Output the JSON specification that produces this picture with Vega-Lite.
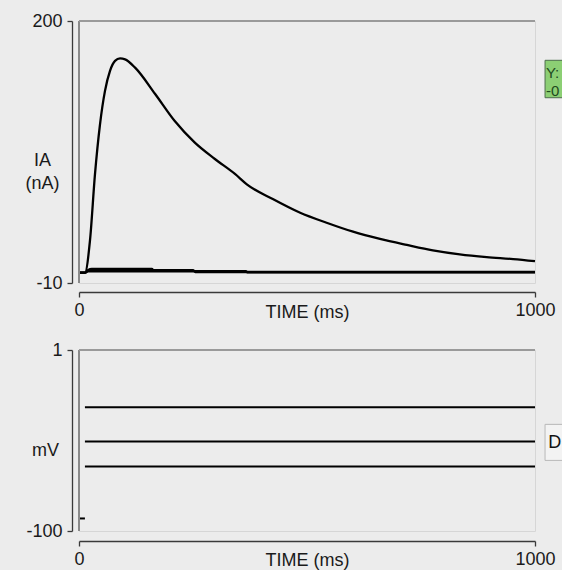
{
  "$schema": "https://vega.github.io/schema/vega-lite/v6.json",
  "background": "#ececec",
  "padding": {"left": 24, "top": 11, "right": 0, "bottom": 0},
  "bounds": "flush",
  "spacing": 67,
  "config": {
    "view": {"stroke": "#d6d6d6", "strokeWidth": 1},
    "font": "Liberation Sans",
    "axis": {
      "domain": true,
      "ticks": true,
      "domainColor": "#3a3a3a",
      "tickColor": "#3a3a3a",
      "grid": false,
      "labelFontSize": 18,
      "titleFontSize": 18,
      "labelColor": "#1a1a1a",
      "titleColor": "#1a1a1a",
      "titleFontWeight": "normal",
      "tickSize": 5,
      "domainWidth": 1.3,
      "tickWidth": 1.3
    }
  },
  "datasets": {
    "ia": [
      {"trace": "a", "t": 0, "v": -1.7}, {"trace": "a", "t": 13, "v": -1.7}, {"trace": "a", "t": 24, "v": 23.7},
      {"trace": "a", "t": 35, "v": 77}, {"trace": "a", "t": 46, "v": 117}, {"trace": "a", "t": 57, "v": 144},
      {"trace": "a", "t": 68, "v": 160}, {"trace": "a", "t": 79, "v": 168}, {"trace": "a", "t": 90, "v": 170},
      {"trace": "a", "t": 101, "v": 169.3}, {"trace": "a", "t": 123, "v": 162.6}, {"trace": "a", "t": 167, "v": 141.5},
      {"trace": "a", "t": 210, "v": 119.8}, {"trace": "a", "t": 254, "v": 102.5}, {"trace": "a", "t": 298, "v": 89.4},
      {"trace": "a", "t": 342, "v": 77.4}, {"trace": "a", "t": 368, "v": 69.1}, {"trace": "a", "t": 425, "v": 57.3},
      {"trace": "a", "t": 485, "v": 46.3}, {"trace": "a", "t": 543, "v": 38.3}, {"trace": "a", "t": 601, "v": 31.1},
      {"trace": "a", "t": 660, "v": 25.3}, {"trace": "a", "t": 719, "v": 20.5}, {"trace": "a", "t": 776, "v": 16.2},
      {"trace": "a", "t": 835, "v": 13}, {"trace": "a", "t": 894, "v": 10.8}, {"trace": "a", "t": 952, "v": 9.2},
      {"trace": "a", "t": 1000, "v": 7.5},
      {"trace": "b", "t": 0, "v": -1.7}, {"trace": "b", "t": 13, "v": -1.7}, {"trace": "b", "t": 20, "v": 0.5},
      {"trace": "b", "t": 28, "v": 1.3}, {"trace": "b", "t": 160, "v": 1.3}, {"trace": "b", "t": 163, "v": 0.4},
      {"trace": "b", "t": 250, "v": 0.4}, {"trace": "b", "t": 255, "v": -1.2}, {"trace": "b", "t": 1000, "v": -1.2},
      {"trace": "c", "t": 0, "v": -1.7}, {"trace": "c", "t": 13, "v": -1.7}, {"trace": "c", "t": 20, "v": -0.6},
      {"trace": "c", "t": 366, "v": -0.6}, {"trace": "c", "t": 370, "v": -1.5}, {"trace": "c", "t": 1000, "v": -1.5}
    ],
    "vm": [
      {"trace": "hold", "t": 0, "v": -93}, {"trace": "hold", "t": 13, "v": -93},
      {"trace": "s1", "t": 13, "v": -31}, {"trace": "s1", "t": 1000, "v": -31},
      {"trace": "s2", "t": 13, "v": -50}, {"trace": "s2", "t": 1000, "v": -50},
      {"trace": "s3", "t": 13, "v": -64}, {"trace": "s3", "t": 1000, "v": -64}
    ]
  },
  "vconcat": [
    {
      "width": 456,
      "height": 262,
      "layer": [
        {
          "data": {"name": "ia"},
          "mark": {"type": "line", "color": "#000000", "strokeWidth": 2.3, "interpolate": "monotone"},
          "encoding": {
            "x": {
              "field": "t", "type": "quantitative",
              "scale": {"domain": [0, 1000], "nice": false, "zero": false},
              "axis": {"values": [0, 1000], "labelExpr": "'' + datum.value", "title": "TIME (ms)", "domain": true, "ticks": true, "offset": 9, "labelFlush": false, "labelPadding": 4, "titleY": 20, "titleBaseline": "middle"}
            },
            "y": {
              "field": "v", "type": "quantitative",
              "scale": {"domain": [-10, 200], "nice": false, "zero": false},
              "axis": {"values": [-10, 200], "labelExpr": "'' + datum.value", "title": ["IA", "(nA)"], "domain": true, "ticks": true, "offset": 7, "labelPadding": 5, "titleAngle": 0, "titleAlign": "center", "titleBaseline": "middle", "titleX": -30, "titleY": 139, "titleLineHeight": 23}
            },
            "detail": {"field": "trace", "type": "nominal"}
          }
        },
        {
          "data": {"values": [{}]},
          "mark": {"type": "rule", "color": "#8a8a8a", "strokeWidth": 2},
          "encoding": {"x": {"datum": 0, "type": "quantitative"}}
        },
        {
          "data": {"values": [{}]},
          "mark": {"type": "rule", "color": "#9a9a9a", "strokeWidth": 2},
          "encoding": {"y": {"datum": 200, "type": "quantitative"}}
        },
        {
          "data": {"values": [{}]},
          "mark": {"type": "rect", "fill": "#8ccf74", "stroke": "#4d6e4d", "strokeWidth": 1},
          "encoding": {
            "x": {"datum": 1022, "type": "quantitative"}, "x2": {"datum": 1080},
            "y": {"datum": 168.5, "type": "quantitative"}, "y2": {"datum": 138.5}
          }
        },
        {
          "data": {"values": [{"label": "Y:", "row": 158.6}, {"label": "-0", "row": 144}]},
          "mark": {"type": "text", "align": "left", "baseline": "middle", "fontSize": 15, "color": "#1e4a1e", "font": "Liberation Sans"},
          "encoding": {
            "x": {"datum": 1024, "type": "quantitative"},
            "y": {"field": "row", "type": "quantitative"},
            "text": {"field": "label"}
          }
        }
      ]
    },
    {
      "width": 456,
      "height": 181,
      "layer": [
        {
          "data": {"name": "vm"},
          "mark": {"type": "line", "color": "#000000", "strokeWidth": 2},
          "encoding": {
            "x": {
              "field": "t", "type": "quantitative",
              "scale": {"domain": [0, 1000], "nice": false, "zero": false},
              "axis": {"values": [0, 1000], "labelExpr": "'' + datum.value", "title": "TIME (ms)", "domain": true, "ticks": true, "offset": 10, "labelFlush": false, "labelPadding": 4, "titleY": 19, "titleBaseline": "middle"}
            },
            "y": {
              "field": "v", "type": "quantitative",
              "scale": {"domain": [-100, 1], "nice": false, "zero": false},
              "axis": {"values": [-100, 1], "labelExpr": "'' + datum.value", "title": "mV", "domain": true, "ticks": true, "offset": 7, "labelPadding": 5, "titleAngle": 0, "titleAlign": "center", "titleBaseline": "middle", "titleX": -27, "titleY": 100}
            },
            "detail": {"field": "trace", "type": "nominal"}
          }
        },
        {
          "data": {"values": [{}]},
          "mark": {"type": "rule", "color": "#8a8a8a", "strokeWidth": 2},
          "encoding": {"x": {"datum": 0, "type": "quantitative"}}
        },
        {
          "data": {"values": [{}]},
          "mark": {"type": "rule", "color": "#9a9a9a", "strokeWidth": 2},
          "encoding": {"y": {"datum": 1, "type": "quantitative"}}
        },
        {
          "data": {"values": [{}]},
          "mark": {"type": "rect", "fill": "#f3f3f3", "stroke": "#b8b8b8", "strokeWidth": 1},
          "encoding": {
            "x": {"datum": 1022, "type": "quantitative"}, "x2": {"datum": 1080},
            "y": {"datum": -40.5, "type": "quantitative"}, "y2": {"datum": -60.6}
          }
        },
        {
          "data": {"values": [{"label": "D"}]},
          "mark": {"type": "text", "align": "left", "baseline": "middle", "fontSize": 18, "color": "#111111", "font": "Liberation Sans"},
          "encoding": {
            "x": {"datum": 1029, "type": "quantitative"},
            "y": {"datum": -50.7, "type": "quantitative"},
            "text": {"field": "label"}
          }
        }
      ]
    }
  ]
}
